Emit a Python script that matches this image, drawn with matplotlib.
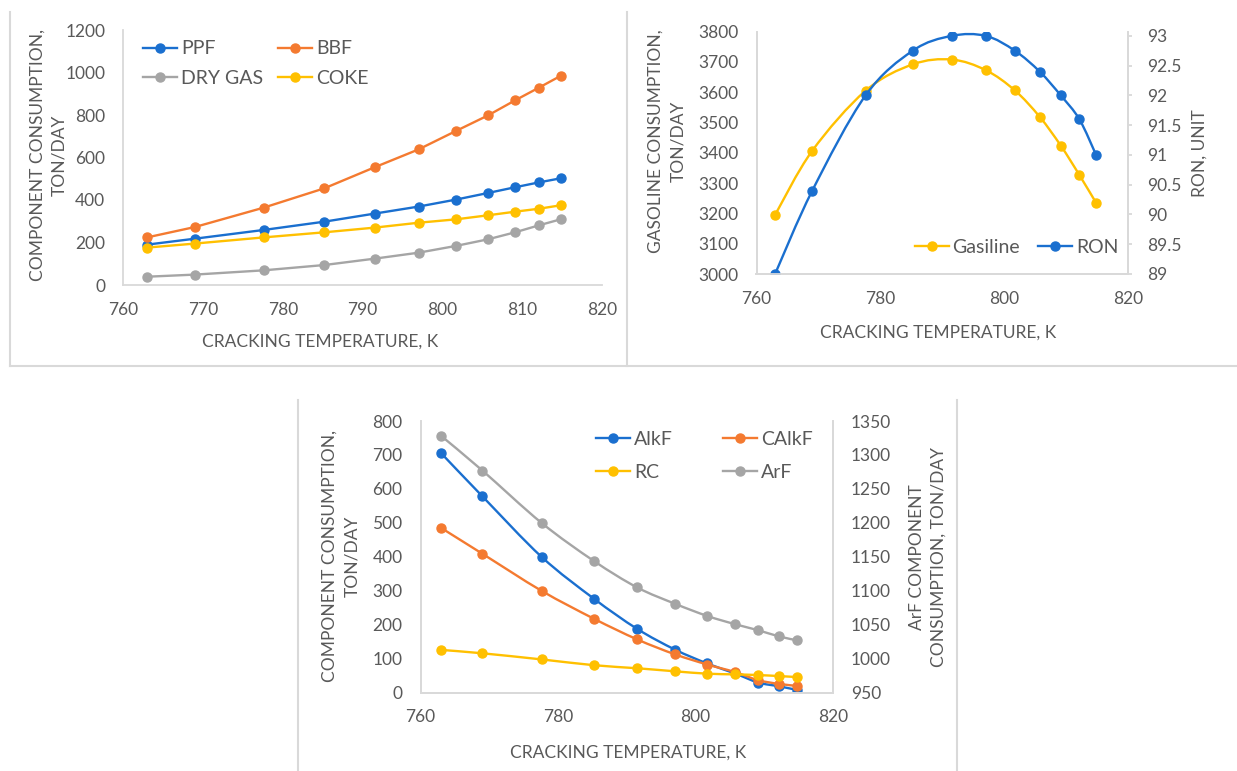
import numpy as np
import matplotlib
matplotlib.use('Agg')
import matplotlib.pyplot as plt
from matplotlib.path import Path
from matplotlib.patches import PathPatch
from matplotlib.lines import Line2D
from matplotlib.ticker import MultipleLocator, FuncFormatter

plt.rcParams['font.family'] = ['Lato', 'DejaVu Sans']

# cracking temperature, K (same points in every panel)
temp = [763, 769, 777.6, 785.2, 791.5, 797, 801.7, 805.7, 809.1, 812.1, 814.8]

# panel 1 - component consumption, ton/day
ppf = [190, 218, 259, 298, 336, 369, 402, 433, 460, 483, 502]
bbf = [224, 273, 364, 455, 554, 638, 725, 798, 869, 929, 984]
dry_gas = [39, 49, 69, 94, 124, 152, 184, 215, 248, 281, 309]
coke = [176, 195, 224, 248, 270, 293, 309, 328, 345, 359, 375]

# panel 2 - gasoline consumption and RON
gasoline = [3195, 3407, 3605, 3692, 3708, 3673, 3606, 3519, 3424, 3327, 3235]
ron = [89.0, 90.4, 92.0, 92.75, 93.0, 93.0, 92.75, 92.4, 92.0, 91.6, 91.0]

# panel 3 - component consumption, ArF on the right axis
alkf = [705, 578, 400, 277, 188, 127, 86, 57, 30, 19, 8]
calkf = [485, 409, 300, 218, 157, 113, 83, 61, 37, 26, 20]
rc = [126, 116, 98, 81, 72, 63, 56, 54, 52, 49, 46]
arf = [1328, 1277, 1200, 1144, 1105, 1081, 1063, 1051, 1042, 1033, 1027]

BLUE = '#1a6fcf'
ORANGE = '#f47a30'
GRAY = '#a5a5a5'
YELLOW = '#ffc000'
TXT = '#595959'
AXC = '#d9d9d9'
FS = 12.5    # tick labels
LFS = 12.5   # axis titles
GFS = 14     # legends
MS = 6.5
LW = 1.7

W, H = 1237, 771
fig = plt.figure(figsize=(W / 100, H / 100), dpi=100)


def px_axes(x0, x1, ytop, ybot):
    return fig.add_axes([x0 / W, 1 - ybot / H, (x1 - x0) / W, (ybot - ytop) / H])


def smooth(ax, x, y, color, z=2):
    # excel-like smoothed line: bezier segments through the data points
    pts = np.column_stack([x, y]).astype(float)
    n = len(pts)
    verts = [pts[0]]
    codes = [Path.MOVETO]
    for i in range(n - 1):
        p0, p1 = pts[max(i - 1, 0)], pts[i]
        p2, p3 = pts[i + 1], pts[min(i + 2, n - 1)]
        verts += [p1 + (p2 - p0) / 6, p2 - (p3 - p1) / 6, p2]
        codes += [Path.CURVE4] * 3
    ax.add_patch(PathPatch(Path(verts, codes), fill=False, ec=color, lw=LW,
                           zorder=z, capstyle='round', joinstyle='round'))
    ax.plot(x, y, ls='none', marker='o', ms=MS, color=color, zorder=z + 0.1)


def handle(color, label):
    return Line2D([], [], color=color, lw=LW, marker='o', ms=MS, label=label)


def style(ax, spines=('left', 'bottom')):
    for s in ['left', 'right', 'top', 'bottom']:
        ax.spines[s].set_visible(s in spines)
        ax.spines[s].set_color(AXC)
        ax.spines[s].set_linewidth(1.3)
    ax.tick_params(length=0, labelsize=FS, colors=TXT)
    ax.tick_params(axis='y', pad=13)
    ax.tick_params(axis='x', pad=12)
    ax.set_facecolor('none')


def labels(ax, xcoords, ycoords, ylab):
    ax.set_xlabel('CRACKING TEMPERATURE, K', fontsize=LFS, color=TXT, va='center')
    ax.xaxis.set_label_coords(*xcoords)
    ax.set_ylabel(ylab, fontsize=LFS, color=TXT, va='center', ha='center',
                  multialignment='center', linespacing=1.45)
    ax.yaxis.set_label_coords(*ycoords)


def legend(ax, handles, ncol, loc, anchor, **kw):
    ax.legend(handles=handles, ncol=ncol, loc=loc, bbox_to_anchor=anchor,
              frameon=False, fontsize=GFS, labelcolor=TXT, handlelength=1.75,
              handletextpad=0.2, borderpad=0, borderaxespad=0, **kw)


fmt = FuncFormatter(lambda v, p: f'{v:g}')

# ---------------- panel 1
ax1 = px_axes(123.2, 602.1, 30, 285)
style(ax1)
ax1.plot(temp, ppf, '-o', color=BLUE, lw=LW, ms=MS)
ax1.plot(temp, bbf, '-o', color=ORANGE, lw=LW, ms=MS)
ax1.plot(temp, dry_gas, '-o', color=GRAY, lw=LW, ms=MS)
ax1.plot(temp, coke, '-o', color=YELLOW, lw=LW, ms=MS)
ax1.set_xlim(760, 820)
ax1.set_ylim(0, 1200)
ax1.xaxis.set_major_locator(MultipleLocator(10))
ax1.yaxis.set_major_locator(MultipleLocator(200))
labels(ax1, (0.411, -0.2235), (-0.1556, 0.51), 'COMPONENT CONSUMPTION,\nTON/DAY')
legend(ax1, [handle(BLUE, 'PPF'), handle(GRAY, 'DRY GAS'),
             handle(ORANGE, 'BBF'), handle(YELLOW, 'COKE')],
       2, 'center left', (0.0413, 0.8686), columnspacing=0.78, labelspacing=0.62)

# ---------------- panel 2
ax2 = px_axes(756.5, 1128.3, 31.7, 274)
style(ax2, ('left', 'bottom', 'right'))
ax2r = ax2.twinx()
style(ax2r, ('left', 'bottom', 'right'))
ax2r.tick_params(axis='y', length=3.2, width=1.3, color=AXC, pad=10)
smooth(ax2, temp, gasoline, YELLOW)
smooth(ax2r, temp, ron, BLUE)
ax2.set_xlim(760, 820)
ax2.set_ylim(3000, 3800)
ax2r.set_ylim(89, 93.07)
ax2.xaxis.set_major_locator(MultipleLocator(20))
ax2.yaxis.set_major_locator(MultipleLocator(100))
ax2r.yaxis.set_major_locator(MultipleLocator(0.5))
ax2r.yaxis.set_major_formatter(fmt)
labels(ax2, (0.489, -0.2435), (-0.2407, 0.549), 'GASOLINE CONSUMPTION,\nTON/DAY')
ax2r.set_ylabel('RON, UNIT', fontsize=LFS, color=TXT, va='center', ha='center',
                rotation=90)
ax2r.yaxis.set_label_coords(1.1915, 0.5)
legend(ax2r, [handle(YELLOW, 'Gasiline'), handle(BLUE, 'RON')],
       2, 'center left', (0.4255, 0.111), columnspacing=0.92)

# ---------------- panel 3
ax3 = px_axes(420.6, 833, 421, 692.7)
style(ax3, ('left', 'bottom', 'right'))
ax3r = ax3.twinx()
style(ax3r, ('left', 'bottom', 'right'))
smooth(ax3, temp, alkf, BLUE, 2)
smooth(ax3, temp, calkf, ORANGE, 2.2)
smooth(ax3, temp, rc, YELLOW, 2.4)
smooth(ax3r, temp, arf, GRAY)
ax3.set_xlim(760, 820)
ax3.set_ylim(0, 800)
ax3r.set_ylim(950, 1350)
ax3.xaxis.set_major_locator(MultipleLocator(20))
ax3.yaxis.set_major_locator(MultipleLocator(100))
ax3r.yaxis.set_major_locator(MultipleLocator(50))
labels(ax3, (0.5024, -0.222), (-0.193, 0.503), 'COMPONENT CONSUMPTION,\nTON/DAY')
ax3r.set_ylabel('ArF COMPONENT\nCONSUMPTION, TON/DAY', fontsize=LFS, color=TXT,
                va='center', ha='center', multialignment='center', rotation=90,
                linespacing=1.45)
ax3r.yaxis.set_label_coords(1.23, 0.5)
legend(ax3r, [handle(BLUE, 'AlkF'), handle(YELLOW, 'RC'),
              handle(ORANGE, 'CAlkF'), handle(GRAY, 'ArF')],
       2, 'center left', (0.4253, 0.871), columnspacing=2.6, labelspacing=0.8)

# light gray panel frames
for xs, ys in [((10, 10), (12, 366)), ((627, 627), (12, 366)), ((10, W), (366, 366)),
               ((298, 298), (400, H)), ((957, 957), (400, H))]:
    fig.add_artist(Line2D([x / W for x in xs], [1 - y / H for y in ys],
                          color=AXC, lw=1.5))

fig.savefig('out.png', dpi=100)
